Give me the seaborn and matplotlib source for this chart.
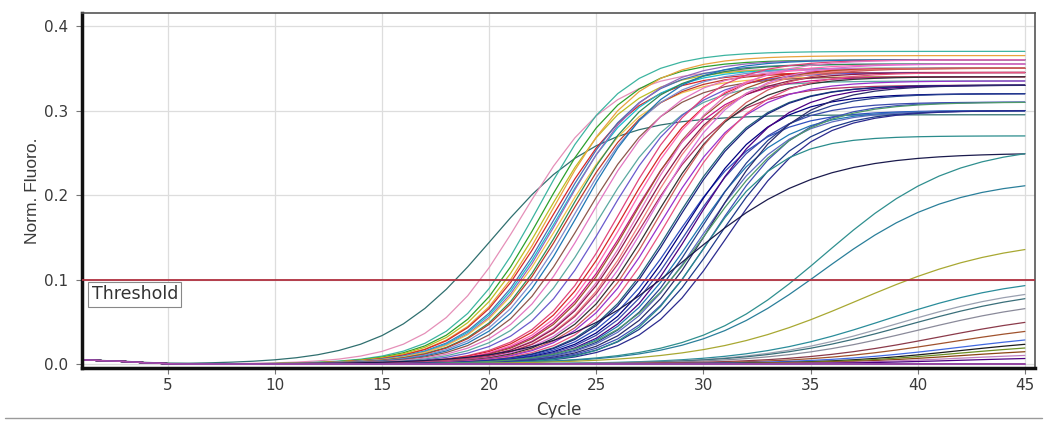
import numpy as np
import pandas as pd
import seaborn as sns
import matplotlib.pyplot as plt
from matplotlib.lines import Line2D

# cycles of the run
cycles = np.arange(1, 46)

# baseline drift at the start of the run (first cycles), then flat
baseline_start = [0.005, 0.004, 0.003, 0.0015, 0.0005, 0.0]

# early wells
early_ct = [18.45, 19.6]
early_top = [0.295, 0.35]
early_slope = [2.5, 2.1]
early_colors = ['#2f6f6f', '#e58fb8']

# group 1 : Ct 20-24
g1_ct = [20.3, 20.6, 20.8, 21.0, 21.1, 21.3, 21.4, 21.5, 21.6, 21.8, 21.9, 22.1, 22.3, 22.6, 22.9, 23.3, 23.7]
g1_top = [0.37, 0.36, 0.35, 0.365, 0.345, 0.355, 0.35, 0.36, 0.34, 0.355, 0.345, 0.35, 0.36, 0.34, 0.35, 0.335, 0.345]
g1_colors = ['#3cb4a0', '#2ca02c', '#bcbd22', '#e8a33d', '#d62728', '#4a6fb5', '#17becf', '#9467bd',
             '#f0c24a', '#2e8b57', '#c0392b', '#7f8fd0', '#1f77b4', '#8c564b', '#e377c2', '#5aa9a0', '#6a5acd']

# group 2 : Ct 24-27
g2_ct = [24.2, 24.4, 24.6, 24.8, 24.9, 25.1, 25.2, 25.4, 25.5, 25.7, 25.9, 26.1, 26.3, 26.6, 26.9]
g2_top = [0.36, 0.35, 0.355, 0.34, 0.35, 0.36, 0.345, 0.35, 0.33, 0.355, 0.34, 0.35, 0.335, 0.345, 0.33]
g2_colors = ['#e0457b', '#d62728', '#ff69b4', '#c71585', '#a0522d', '#e377c2', '#8b1a4a', '#f08080',
             '#b03060', '#da70d6', '#333333', '#cd5c5c', '#9932cc', '#e75480', '#20607a']

# group 3 : Ct 27-30
g3_ct = [27.0, 27.3, 27.5, 27.7, 27.9, 28.1, 28.3, 28.5, 28.7, 29.0, 29.3, 29.7]
g3_top = [0.33, 0.3, 0.32, 0.31, 0.33, 0.3, 0.32, 0.3, 0.33, 0.31, 0.3, 0.3]
g3_colors = ['#1a237e', '#2f4fbf', '#000080', '#3949ab', '#4b0082', '#1f77b4', '#26418f', '#5c6bc0',
             '#2a2a6a', '#3f51b5', '#1e3a8a', '#2b2b8f']

# slower / later wells : Ct, plateau, slope
late_ct = [28.5, 29.0, 28.0, 34.25, 35.0, 39.6]
late_top = [0.31, 0.27, 0.25, 0.26, 0.22, 0.15]
late_slope = [2.2, 1.8, 3.0, 3.0, 3.0, 3.5]
late_colors = ['#4f9a6a', '#2a8c8c', '#1b1b4d', '#2f8f8f', '#2a7f9a', '#a8a832']

# low wells that never reach the threshold : midpoint, plateau, slope
low_mid = [38.5, 39.0, 39.5, 40.0, 41.0, 41.5, 42.0, 42.0, 42.0, 42.0, 42.0, 42.0]
low_top = [0.105, 0.095, 0.092, 0.08, 0.064, 0.052, 0.04, 0.032, 0.026, 0.02, 0.014, 0.009]
low_slope = [3.2, 3.2, 3.3, 3.3, 3.3, 3.3, 3.3, 3.0, 3.0, 3.0, 3.0, 3.0]
low_colors = ['#2a8c9a', '#9aa0b0', '#3a6f7a', '#8a8a9a', '#8b3a4a', '#a0522d', '#4169e1', '#1b1b1b',
              '#6b8e23', '#8b4513', '#c080c0', '#4b0082']

# negative controls (flat)
neg_colors = ['#8a2be2', '#c71585', '#5b2c83', '#d08cd0', '#3b2a7a', '#b04fb0']

threshold = 0.1


def curve(mid, top, slope):
    base = np.zeros(len(cycles))
    base[:len(baseline_start)] = baseline_start
    return base + top / (1 + np.exp(-(cycles - mid) / slope))


rows = []
colors = []
k = 0


def add(mid, top, slope, col):
    global k
    y = curve(mid, top, slope)
    for c, v in zip(cycles, y):
        rows.append((k, c, v))
    colors.append(col)
    k += 1


# Ct -> midpoint of the sigmoid
def ct_mid(ct, top, slope):
    return ct + slope * np.log(top / threshold - 1)


for ct, top, s, col in zip(early_ct, early_top, early_slope, early_colors):
    add(ct_mid(ct, top, s), top, s, col)
for ct, top, col in zip(g1_ct, g1_top, g1_colors):
    add(ct_mid(ct, top, 2.0), top, 2.0, col)
for ct, top, col in zip(g2_ct, g2_top, g2_colors):
    add(ct_mid(ct, top, 2.0), top, 2.0, col)
for ct, top, col in zip(g3_ct, g3_top, g3_colors):
    add(ct_mid(ct, top, 2.0), top, 2.0, col)
for ct, top, s, col in zip(late_ct, late_top, late_slope, late_colors):
    add(ct_mid(ct, top, s), top, s, col)
for m, top, s, col in zip(low_mid, low_top, low_slope, low_colors):
    add(m, top, s, col)
for col in neg_colors:
    add(40, 0.0, 3, col)

df = pd.DataFrame(rows, columns=['well', 'Cycle', 'Norm. Fluoro.'])

sns.set_theme(style='white')
plt.rcParams['font.family'] = ['DejaVu Sans']

fig = plt.figure(figsize=(10.47, 4.33), dpi=100)
ax = fig.add_axes([0.0783, 0.150, 0.9102, 0.820])

ax.grid(True, color='#dddddd', linewidth=0.9)
ax.set_axisbelow(True)

sns.lineplot(data=df, x='Cycle', y='Norm. Fluoro.', hue='well', palette=colors,
             legend=False, linewidth=0.9, ax=ax)

ax.axhline(threshold, color='#b0303f', linewidth=1.3, zorder=5)
ax.text(1.45, 0.0825, 'Threshold', fontsize=12.5, color='#333333', va='center', ha='left', zorder=6,
        bbox=dict(boxstyle='square,pad=0.2', fc='white', ec='#888888', lw=0.8))

ax.set_xlim(1.0, 45.47)
ax.set_ylim(-0.0047, 0.4154)
ax.set_xticks([5, 10, 15, 20, 25, 30, 35, 40, 45])
ax.set_yticks([0.0, 0.1, 0.2, 0.3, 0.4])
ax.set_yticklabels(['0.0', '0.1', '0.2', '0.3', '0.4'])
ax.tick_params(axis='both', which='both', direction='out', length=4, width=0.8,
               colors='#777777', labelcolor='#3a3a3a', labelsize=11, bottom=True, left=True)
ax.tick_params(axis='y', pad=6)
ax.tick_params(axis='x', pad=3)

ax.set_xlabel('Cycle', fontsize=12, color='#3a3a3a', labelpad=6)
ax.set_ylabel('Norm. Fluoro.', fontsize=12.5, color='#3a3a3a', labelpad=3,
              family=['Liberation Sans Narrow', 'Liberation Sans'])

for side in ['left', 'bottom']:
    ax.spines[side].set_color('#111111')
    ax.spines[side].set_linewidth(2.5)
for side in ['top', 'right']:
    ax.spines[side].set_color('#555555')
    ax.spines[side].set_linewidth(1.2)

fig.add_artist(Line2D([0.005, 0.995], [0.035, 0.035], color='#9a9a9a', linewidth=1.0))

fig.savefig('out.png', dpi=100)
